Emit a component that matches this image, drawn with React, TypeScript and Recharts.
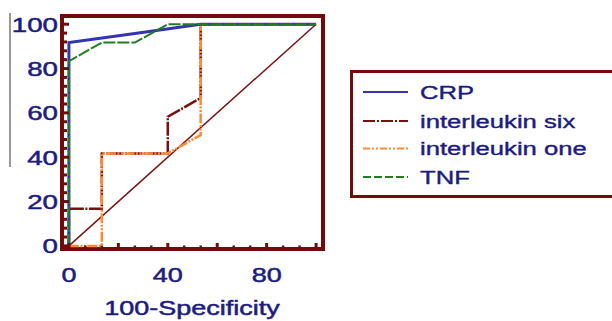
import { LineChart, Line, XAxis, YAxis, ReferenceArea } from "recharts"

// ROC curves
const crpPoints = [
    { x: 0, y: 0 },
    { x: 0, y: 91.7 },
    { x: 26.7, y: 95.8 },
    { x: 53.3, y: 100 },
    { x: 100, y: 100 },
]
const il6Points = [
    { x: 0, y: 0 },
    { x: 0, y: 16.7 },
    { x: 13.3, y: 16.7 },
    { x: 13.3, y: 41.7 },
    { x: 40, y: 41.7 },
    { x: 40, y: 58.3 },
    { x: 53.3, y: 66.7 },
    { x: 53.3, y: 100 },
    { x: 100, y: 100 },
]
const il1Points = [
    { x: 0, y: 0 },
    { x: 13.3, y: 0 },
    { x: 13.3, y: 41.7 },
    { x: 40, y: 41.7 },
    { x: 53.3, y: 50 },
    { x: 53.3, y: 100 },
    { x: 100, y: 100 },
]
const tnfPoints = [
    { x: 0, y: 0 },
    { x: 0, y: 83.3 },
    { x: 13.3, y: 91.7 },
    { x: 26.7, y: 91.7 },
    { x: 40, y: 100 },
    { x: 100, y: 100 },
]
const chancePoints = [
    { x: 0, y: 0 },
    { x: 100, y: 100 },
]

const xTicks = [0, 6.67, 13.33, 20, 26.67, 33.33, 40, 46.67, 53.33, 60, 66.67, 73.33, 80, 86.67, 93.33, 100]
const xLabels = [0, 40, 80]
const yTicks = [0, 4, 8, 12, 16, 20, 24, 28, 32, 36, 40, 44, 48, 52, 56, 60, 64, 68, 72, 76, 80, 84, 88, 92, 96, 100]
const yLabels = [0, 20, 40, 60, 80, 100]

const legendItems = [
    { name: "CRP", color: "#3434ae", dash: undefined as string | undefined },
    { name: "interleukin six", color: "#781010", dash: "12 2 2 2" },
    { name: "interleukin one", color: "#ff8a36", dash: "7 2 2 2 2 2" },
    { name: "TNF", color: "#1f7d22", dash: "8 3" },
]

const MAROON = "#700c0c"
const NAVY = "#1c1c80"
const FONT = "'Liberation Sans', Arial, sans-serif"
const STRETCH = 1.35

const isMajor = (v: number) => Math.abs(v / 20 - Math.round(v / 20)) < 0.01

function XTick(props: any) {
    const { x, y, payload } = props
    const major = isMajor(payload.value)
    const len = major ? 6 : 3.5
    return (
        <g>
            <line x1={x} x2={x} y1={y} y2={y - len} stroke={MAROON} strokeWidth={major ? 3 : 2.5} />
            {xLabels.includes(payload.value) && (
                <text
                    transform={`translate(${x},${y + 33}) scale(${STRETCH},1)`}
                    textAnchor="middle"
                    fontSize={20}
                    fontFamily={FONT}
                    fill={NAVY}
                    stroke={NAVY}
                    strokeWidth={0.5}
                >
                    {payload.value}
                </text>
            )}
        </g>
    )
}

function YTick(props: any) {
    const { x, y, payload } = props
    const major = isMajor(payload.value)
    const len = major ? 7 : 5
    return (
        <g>
            <line x1={x} x2={x + len} y1={y} y2={y} stroke={MAROON} strokeWidth={3} />
            {yLabels.includes(payload.value) && (
                <text
                    transform={`translate(${x - 4},${y + 7.5}) scale(${STRETCH},1)`}
                    textAnchor="end"
                    fontSize={20.5}
                    fontFamily={FONT}
                    fill={NAVY}
                    stroke={NAVY}
                    strokeWidth={0.5}
                >
                    {payload.value}
                </text>
            )}
        </g>
    )
}

export default function App() {
    return (
        <div style={{ position: "absolute", left: 0, top: 0, width: 612, height: 321, background: "#fff", overflow: "hidden" }}>
            <LineChart width={612} height={321} margin={{ top: 16, right: 289, left: 0, bottom: 0 }}>
                <XAxis
                    type="number"
                    dataKey="x"
                    domain={[-2.8, 102.8]}
                    ticks={xTicks}
                    interval={0}
                    tick={<XTick />}
                    tickLine={false}
                    axisLine={false}
                    tickSize={0}
                    tickMargin={0}
                    height={72}
                    allowDataOverflow
                />
                <YAxis
                    type="number"
                    dataKey="y"
                    domain={[-1.4, 103.7]}
                    ticks={yTicks}
                    interval={0}
                    tick={<YTick />}
                    tickLine={false}
                    axisLine={false}
                    tickSize={0}
                    tickMargin={0}
                    width={62}
                    allowDataOverflow
                />
                <Line data={chancePoints} dataKey="y" stroke="#7a1414" strokeWidth={1.5} dot={false} isAnimationActive={false} />
                <Line data={il6Points} dataKey="y" stroke="#781010" strokeWidth={2.5} strokeDasharray="14 1.5 2 1.5" dot={false} isAnimationActive={false} />
                <Line data={il1Points} dataKey="y" stroke="#ff8a36" strokeWidth={2.5} strokeDasharray="10 1.5 2 1.5 2 1.5" dot={false} isAnimationActive={false} />
                <Line data={crpPoints} dataKey="y" stroke="#3434ae" strokeWidth={3} dot={false} isAnimationActive={false} />
                <Line data={tnfPoints} dataKey="y" stroke="#1f7d22" strokeWidth={2} strokeDasharray="12 2" dot={false} isAnimationActive={false} />
                <ReferenceArea x1={-2.8} x2={102.8} y1={-1.4} y2={103.7} fill="none" stroke={MAROON} strokeWidth={4} ifOverflow="visible" />
                <text
                    transform={`translate(192,315) scale(${STRETCH},1)`}
                    textAnchor="middle"
                    fontSize={20}
                    fontFamily={FONT}
                    fill={NAVY}
                    stroke={NAVY}
                    strokeWidth={0.5}
                >
                    100-Specificity
                </text>
            </LineChart>

            {/* stray rule on the far left and the legend box */}
            <svg width={612} height={321} style={{ position: "absolute", left: 0, top: 0, pointerEvents: "none" }}>
                <line x1={10} x2={10} y1={13} y2={167} stroke="#333" strokeWidth={1} />
                <rect x={351.5} y={71.5} width={270} height={125} fill="#fff" stroke={MAROON} strokeWidth={3} />
                {legendItems.map((item, i) => {
                    const cy = [92, 121, 148.5, 177][i]
                    return (
                        <g key={item.name}>
                            <line x1={363} x2={408} y1={cy} y2={cy} stroke={item.color} strokeWidth={2} strokeDasharray={item.dash} />
                            <text
                                transform={`translate(420,${cy + 6.5}) scale(${STRETCH},1)`}
                                fontSize={19}
                                fontFamily={FONT}
                                fill={NAVY}
                                stroke={NAVY}
                                strokeWidth={0.4}
                            >
                                {item.name}
                            </text>
                        </g>
                    )
                })}
            </svg>
        </div>
    )
}
